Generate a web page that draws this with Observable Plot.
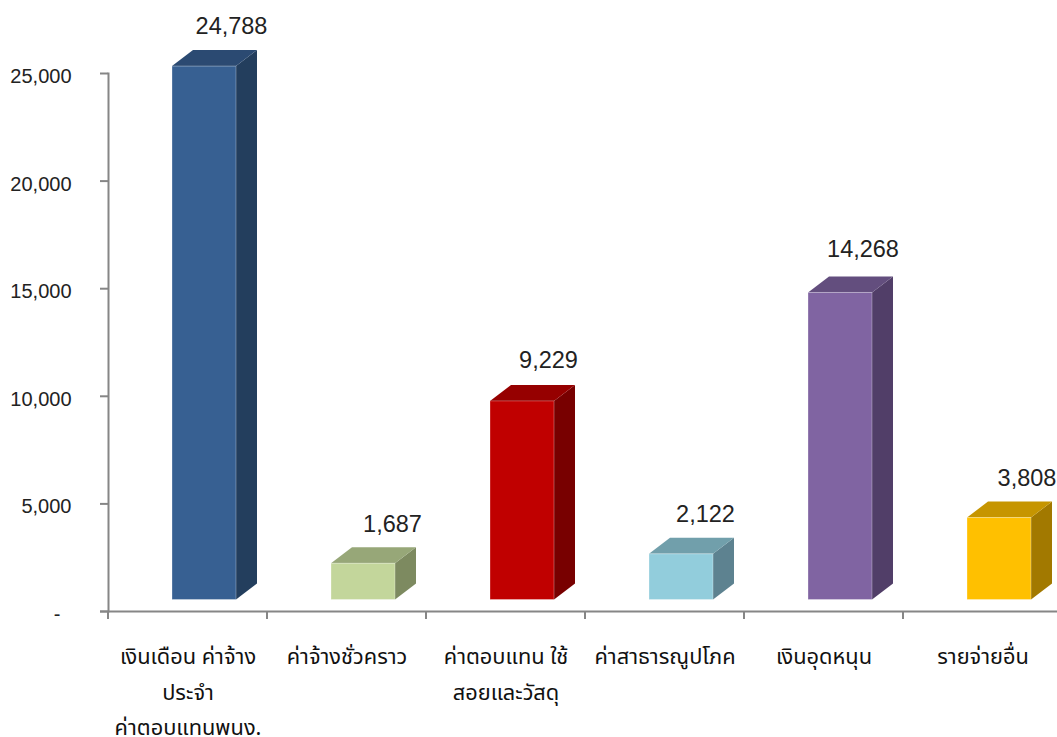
<!DOCTYPE html>
<html>
<head>
<meta charset="utf-8">
<script src="https://cdn.jsdelivr.net/npm/d3@7"></script>
<script src="https://cdn.jsdelivr.net/npm/@observablehq/plot@0.6"></script>
<style>
html,body{margin:0;padding:0;background:#fff;overflow:hidden}
svg{display:block}
</style>
</head>
<body>
<div id="chart"></div>
<script>
const categories = [
  "เงินเดือน ค่าจ้าง\nประจำ\nค่าตอบแทนพนง.",
  "ค่าจ้างชั่วคราว",
  "ค่าตอบแทน ใช้\nสอยและวัสดุ",
  "ค่าสาธารณูปโภค",
  "เงินอุดหนุน",
  "รายจ่ายอื่น"
];
const values = [24788, 1687, 9229, 2122, 14268, 3808];
const yTicks = [0, 5000, 10000, 15000, 20000, 25000];
const frontColors = ["#376092", "#c3d69b", "#c00000", "#92cddc", "#8064a2", "#ffc000"];
const topColors = ["#2b4a72", "#97a778", "#960000", "#719fab", "#634e7e", "#c69500"];
const sideColors = ["#233e5d", "#7d8a60", "#780000", "#5d8290", "#513e68", "#a27900"];

const rows = categories.map((category, i) => ({category, value: values[i], i}));

const INSET_L = 64, INSET_R = 31, DEPTH_X = 21, DEPTH_Y = 16, FLOOR = 11.5;
const labelDx = [43.5, 45.5, 42.5, 40.5, 39, 44];
const labelDy = [-40, -39, -41, -40, -43, -40];
const axisColor = "#868686";
const FONT = "Liberation Sans, Arial, sans-serif";

function depthFaces(index, scales) {
  const g = d3.create("svg:g");
  const step = scales.x(categories[1]) - scales.x(categories[0]);
  for (const r of rows) {
    const x0 = scales.x(r.category) + INSET_L;
    const x1 = scales.x(r.category) + step - INSET_R;
    const top = scales.y(r.value) - FLOOR;
    const base = scales.y(0) - FLOOR;
    g.append("path").attr("fill", sideColors[r.i])
      .attr("d", d3.line()([[x1, top], [x1 + DEPTH_X, top - DEPTH_Y], [x1 + DEPTH_X, base - DEPTH_Y], [x1, base]]) + "Z");
    g.append("path").attr("fill", topColors[r.i])
      .attr("d", d3.line()([[x0, top], [x0 + DEPTH_X, top - DEPTH_Y], [x1 + DEPTH_X, top - DEPTH_Y], [x1, top]]) + "Z");
  }
  return g.node();
}

function bandEdgeTicks(index, scales) {
  const g = d3.create("svg:g").attr("stroke", axisColor).attr("stroke-width", 2);
  const step = scales.x(categories[1]) - scales.x(categories[0]);
  for (const c of categories) {
    const x = scales.x(c) + step;
    g.append("line").attr("x1", x).attr("x2", x).attr("y1", scales.y(0)).attr("y2", scales.y(0) + 8);
  }
  const x0 = scales.x(categories[0]);
  g.append("line").attr("x1", x0).attr("x2", x0).attr("y1", scales.y(0)).attr("y2", scales.y(0) + 8);
  return g.node();
}

const plot = Plot.plot({
  width: 1057,
  height: 737,
  marginLeft: 108,
  marginRight: 0,
  marginTop: 73,
  marginBottom: 126,
  style: {background: "#fff", fontFamily: FONT},
  x: {domain: categories, range: [108, 1062], padding: 0, label: null, axis: null},
  y: {domain: [0, 25000], label: null, axis: null},
  marks: [
    depthFaces,
    Plot.barY(rows, {
      x: "category", y: "value",
      fill: (d) => frontColors[d.i],
      stroke: "#fff",
      strokeOpacity: 0.3,
      insetLeft: INSET_L, insetRight: INSET_R, dy: -FLOOR
    }),
    Plot.frame({anchor: "left", stroke: axisColor, strokeWidth: 2}),
    Plot.ruleY([0], {stroke: axisColor, strokeWidth: 2, insetLeft: -8}),
    bandEdgeTicks,
    Plot.axisY({
      ticks: yTicks,
      tickSize: 8,
      stroke: axisColor,
      strokeWidth: 2,
      strokeOpacity: 1,
      label: null,
      tickFormat: () => ""
    }),
    Plot.axisY({
      ticks: yTicks,
      tickSize: 0,
      tickPadding: 37,
      fill: "#222",
      fontSize: 20,
      dy: 3,
      label: null,
      tickFormat: (d) => d === 0 ? "-\u00a0\u00a0" : d3.format(",")(d)
    }),
    Plot.text(categories, {
      x: (d) => d,
      frameAnchor: "bottom",
      lineAnchor: "top",
      dy: 28,
      lineHeight: 1.61,
      fontSize: 21.8,
      fill: "#111",
      fontFamily: "'Noto Sans Thai', 'Noto Sans', Tahoma, sans-serif"
    }),
    ...rows.map((r) => Plot.text([r], {
      x: "category", y: "value",
      text: (d) => d3.format(",")(d.value),
      fontSize: 23.5,
      fill: "#222",
      dx: labelDx[r.i],
      dy: labelDy[r.i] - FLOOR
    }))
  ]
});
document.getElementById("chart").append(plot);
</script>
</body>
</html>
